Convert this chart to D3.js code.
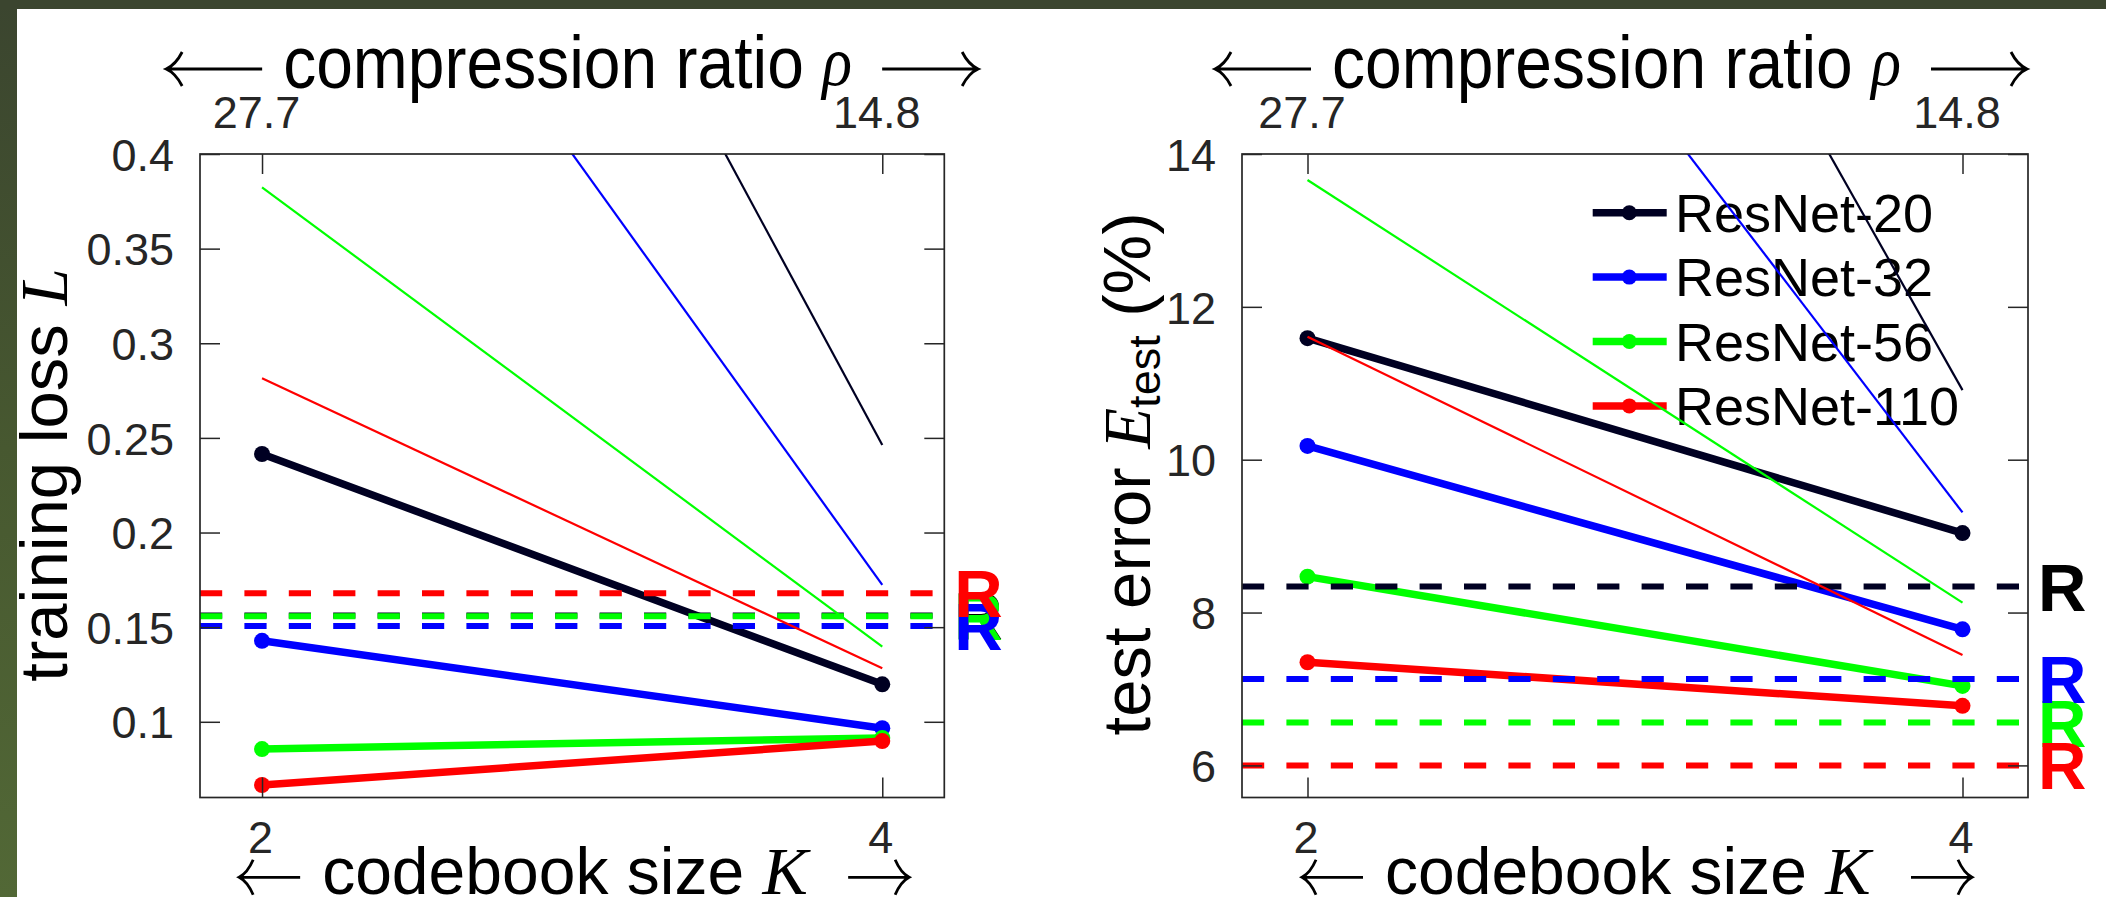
<!DOCTYPE html>
<html><head><meta charset="utf-8">
<script src="https://cdn.jsdelivr.net/npm/d3@7"></script>
<style>html,body{margin:0;padding:0;background:#fff;overflow:hidden}</style>
</head><body>
<svg id="chart" width="2106" height="897"></svg>
<script>
// ---------- data ----------
const K = [2, 4];
const rhoLabels = ["27.7", "14.8"];
const kLabels = ["2", "4"];
const networks = ["ResNet-20", "ResNet-32", "ResNet-56", "ResNet-110"];
const colors = ["#000022", "#0000ff", "#00ff00", "#ff0000"];
// training loss (left panel)
const lossRetrained = [[0.2415, 0.1198], [0.1428, 0.0966], [0.0856, 0.0915], [0.0666, 0.0898]];
const lossDirect = [[0.854, 0.2462], [0.628, 0.1723], [0.3824, 0.1397], [0.2815, 0.1283]];
const lossReference = [0.1562, 0.1506, 0.1557, 0.1679];
const lossTicks = [0.1, 0.15, 0.2, 0.25, 0.3, 0.35, 0.4];
const lossTickLabels = ["0.1", "0.15", "0.2", "0.25", "0.3", "0.35", "0.4"];
// test error (right panel)
const errRetrained = [[11.59, 9.04], [10.18, 7.78], [8.47, 7.04], [7.35, 6.78]];
const errDirect = [[26.1, 10.91], [20.5, 9.31], [13.66, 8.13], [11.61, 7.445]];
const errReference = [8.34, 7.13, 6.56, 6.0];
const errTicks = [6, 8, 10, 12, 14];
const errTickLabels = ["6", "8", "10", "12", "14"];

// ---------- page ----------
const svg = d3.select("#chart");
const W = 2106, H = 897;
const SANS = "'Liberation Sans', Arial, Helvetica, sans-serif";
const SERIF = "'Liberation Serif', 'Times New Roman', serif";
const AXC = "#262626";

const defs = svg.append("defs");
const grad = defs.append("linearGradient").attr("id", "bandGrad").attr("x1", 0).attr("y1", 0).attr("x2", 0).attr("y2", 1);
grad.append("stop").attr("offset", "0%").attr("stop-color", "#3b452f");
grad.append("stop").attr("offset", "50%").attr("stop-color", "#475830");
grad.append("stop").attr("offset", "100%").attr("stop-color", "#526836");
svg.append("rect").attr("x", 0).attr("y", 0).attr("width", W).attr("height", H).attr("fill", "#fff");
svg.append("rect").attr("x", 0).attr("y", 0).attr("width", 17).attr("height", H).attr("fill", "url(#bandGrad)");
svg.append("rect").attr("x", 0).attr("y", 0).attr("width", W).attr("height", 9).attr("fill", "#3b452f");

function arrowPath(xTip, xTail, y, hw, hh) {
  const s = Math.sign(xTail - xTip);
  return `M${xTip},${y}H${xTail}` +
    `M${xTip + s * hw},${y - hh}Q${xTip + s * hw * 0.6},${y - hh * 0.25} ${xTip},${y}` +
    `Q${xTip + s * hw * 0.6},${y + hh * 0.25} ${xTip + s * hw},${y + hh}`;
}

function panel(o) {
  const g = svg.append("g");
  const x = d3.scaleLinear().domain([1.8, 4.2]).range([o.x0, o.x1]);
  const y = d3.scaleLinear().domain(o.yDomain).range([o.y1, o.y0]);
  const clipId = "clip" + o.id;
  defs.append("clipPath").attr("id", clipId).append("rect")
    .attr("x", o.x0).attr("y", o.y0).attr("width", o.x1 - o.x0).attr("height", o.y1 - o.y0);

  // legend (drawn under the data lines)
  if (o.legend) {
    const lg = g.append("g");
    networks.forEach((name, i) => {
      const ry = 212.7 + i * 64.4;
      lg.append("line").attr("x1", 1592.7).attr("x2", 1666.7).attr("y1", ry).attr("y2", ry)
        .attr("stroke", colors[i]).attr("stroke-width", 7.5);
      lg.append("circle").attr("cx", 1629.3).attr("cy", ry).attr("r", 7.5).attr("fill", colors[i]);
      lg.append("text").attr("x", 1675).attr("y", ry + 19.3).attr("font-family", SANS)
        .attr("font-size", 54).attr("fill", "#000").text(name);
    });
  }

  const line = d3.line().x((d, j) => x(K[j])).y(d => y(d));

  // retrained: thick lines with markers
  o.retrained.forEach((vals, i) => {
    g.append("path").attr("d", line(vals)).attr("fill", "none")
      .attr("stroke", colors[i]).attr("stroke-width", 7.5).attr("stroke-linejoin", "round");
    vals.forEach((v, j) => {
      g.append("circle").attr("cx", x(K[j])).attr("cy", y(v)).attr("r", 8).attr("fill", colors[i]);
    });
  });

  // reference: dashed horizontal lines
  o.reference.forEach((v, i) => {
    g.append("line").attr("x1", x(1.8)).attr("x2", x(4.2)).attr("y1", y(v)).attr("y2", y(v))
      .attr("stroke", colors[i]).attr("stroke-width", 6).attr("stroke-dasharray", "22.2 22.2");
  });

  // direct compression: thin lines, clipped
  const dg = g.append("g").attr("clip-path", `url(#${clipId})`);
  o.direct.forEach((vals, i) => {
    dg.append("path").attr("d", line(vals)).attr("fill", "none")
      .attr("stroke", colors[i]).attr("stroke-width", 2.2);
  });

  // box
  g.append("rect").attr("x", o.x0).attr("y", o.y0).attr("width", o.x1 - o.x0).attr("height", o.y1 - o.y0)
    .attr("fill", "none").attr("stroke", AXC).attr("stroke-width", 1.7);

  // axes
  const styleAxis = (sel) => {
    sel.select(".domain").remove();
    sel.selectAll(".tick line").attr("stroke", AXC).attr("stroke-width", 1.5);
    sel.selectAll(".tick text").attr("fill", AXC).attr("font-size", 45).attr("font-family", SANS);
  };
  const yl = g.append("g").attr("transform", `translate(${o.x0},0)`)
    .call(d3.axisLeft(y).tickValues(o.ticks).tickFormat((d, i) => o.tickLabels[i]).tickSize(-20).tickPadding(26));
  styleAxis(yl); yl.selectAll(".tick text").attr("dy", "0.36em");
  const yr = g.append("g").attr("transform", `translate(${o.x1},0)`)
    .call(d3.axisRight(y).tickValues(o.ticks).tickFormat("").tickSize(-20));
  styleAxis(yr);
  const xt = g.append("g").attr("transform", `translate(0,${o.y0})`)
    .call(d3.axisTop(x).tickValues(K).tickFormat((d, i) => rhoLabels[i]).tickSize(-20).tickPadding(25.7));
  styleAxis(xt); xt.selectAll(".tick text").attr("dx", -6);
  const xb = g.append("g").attr("transform", `translate(0,${o.y1})`)
    .call(d3.axisBottom(x).tickValues(K).tickFormat((d, i) => kLabels[i]).tickSize(-20).tickPadding(24));
  styleAxis(xb); xb.selectAll(".tick text").attr("dx", -2);

  // R labels (reference markers)
  [0, 2, 1, 3].forEach(i => {
    g.append("text").attr("x", o.x1 + 10).attr("y", y(o.reference[i]) + 24)
      .attr("font-family", SANS).attr("font-weight", "bold").attr("font-size", 67)
      .attr("fill", i === 0 ? "#000" : colors[i]).text("R");
  });

  // top title: compression ratio
  const tc = (o.x0 + o.x1) / 2 + o.titleShift;
  const tt = g.append("text").attr("transform", `translate(${tc - 289},87.7) scale(1,1.12)`)
    .attr("font-family", SANS).attr("font-size", 66).attr("fill", "#000");
  tt.append("tspan").text("compression ratio ");
  tt.append("tspan").attr("font-family", SERIF).attr("font-style", "italic").attr("font-size", 62)
    .attr("dy", -2).text("ρ");
  g.append("path").attr("d", arrowPath(tc - 406, tc - 310, 69, 16, 17) + arrowPath(tc + 406, tc + 310, 69, 16, 17))
    .attr("fill", "none").attr("stroke", "#000").attr("stroke-width", 2.8);

  // bottom title: codebook size
  const bc = (o.x0 + o.x1) / 2;
  const bt = g.append("text").attr("x", bc - 250).attr("y", 894).attr("font-family", SANS)
    .attr("font-size", 66).attr("fill", "#000");
  bt.append("tspan").text("codebook size ");
  bt.append("tspan").attr("font-family", SERIF).attr("font-style", "italic").attr("font-size", 68).text("K");
  g.append("path").attr("d", arrowPath(bc - 333, bc - 272, 877.3, 14, 17.5) + arrowPath(bc + 337, bc + 276, 877.3, 14, 17.5))
    .attr("fill", "none").attr("stroke", "#000").attr("stroke-width", 2.8);

  // y label
  o.ylabel(g);
}

panel({
  id: "L", x0: 200, x1: 944.3, y0: 154, y1: 797.5, yDomain: [0.06, 0.4],
  ticks: lossTicks, tickLabels: lossTickLabels,
  retrained: lossRetrained, direct: lossDirect, reference: lossReference,
  legend: false, titleShift: 0,
  ylabel: (g) => {
    const t = g.append("text").attr("transform", "translate(66.7,475) rotate(-90)")
      .attr("text-anchor", "middle").attr("font-family", SANS).attr("font-size", 67).attr("fill", "#000");
    t.append("tspan").text("training loss ");
    t.append("tspan").attr("font-family", SERIF).attr("font-style", "italic").text("L");
  }
});

panel({
  id: "R", x0: 1242, x1: 2028, y0: 154, y1: 797.5, yDomain: [5.58, 14],
  ticks: errTicks, tickLabels: errTickLabels,
  retrained: errRetrained, direct: errDirect, reference: errReference,
  legend: true, titleShift: -14,
  ylabel: (g) => {
    const t = g.append("text").attr("transform", "translate(1150,474) rotate(-90)")
      .attr("text-anchor", "middle").attr("font-family", SANS).attr("font-size", 67).attr("fill", "#000");
    t.append("tspan").text("test error ");
    t.append("tspan").attr("font-family", SERIF).attr("font-style", "italic").text("E");
    t.append("tspan").attr("font-size", 45).attr("dy", 10).text("test");
    t.append("tspan").attr("dy", -10).text(" (%)");
  }
});
</script>
</body></html>
